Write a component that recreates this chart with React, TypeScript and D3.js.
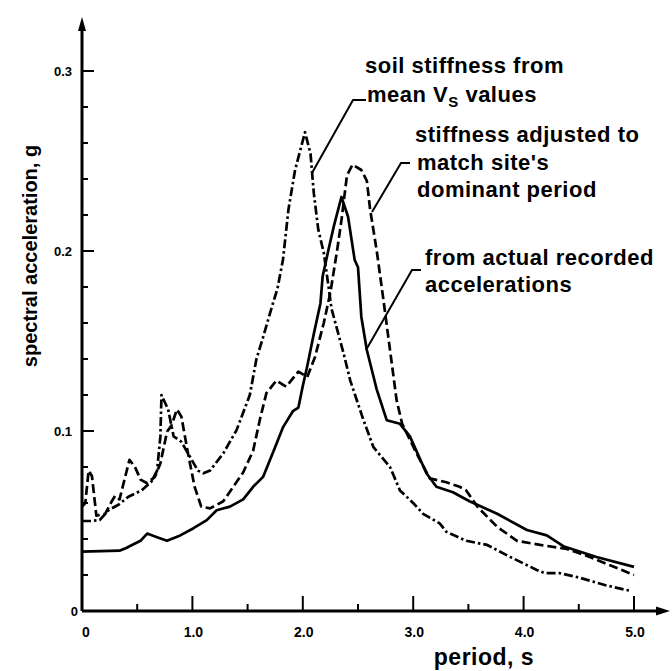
import React from 'react';
import * as d3 from 'd3';

// ---------- data ----------
const meanVsPeriod = [0, 0.08, 0.16, 0.24, 0.33, 0.42, 0.54, 0.63, 0.68, 0.71, 0.72, 0.78, 0.83, 0.9, 0.96, 1.05, 1.1, 1.16, 1.28, 1.4, 1.52, 1.58, 1.64, 1.72, 1.75, 1.77, 1.82, 1.87, 1.93, 2.02, 2.07, 2.1, 2.14, 2.19, 2.22, 2.26, 2.37, 2.43, 2.55, 2.64, 2.79, 2.88, 3.0, 3.09, 3.24, 3.3, 3.48, 3.67, 3.88, 4.12, 4.19, 4.33, 4.5, 4.75, 4.98];
const meanVsAccel = [0.05, 0.05, 0.0505, 0.056, 0.059, 0.0635, 0.067, 0.072, 0.078, 0.097, 0.12, 0.112, 0.097, 0.094, 0.0876, 0.078, 0.0765, 0.078, 0.0876, 0.1005, 0.12, 0.14, 0.152, 0.169, 0.175, 0.179, 0.195, 0.223, 0.245, 0.266, 0.254, 0.232, 0.212, 0.199, 0.186, 0.168, 0.143, 0.128, 0.106, 0.091, 0.08, 0.067, 0.06, 0.054, 0.0487, 0.044, 0.039, 0.0367, 0.03, 0.0228, 0.021, 0.021, 0.0186, 0.0142, 0.011];

const adjustedPeriod = [0, 0.03, 0.06, 0.09, 0.13, 0.21, 0.27, 0.3, 0.34, 0.43, 0.48, 0.53, 0.59, 0.66, 0.71, 0.77, 0.81, 0.86, 0.9, 0.96, 1.02, 1.08, 1.16, 1.28, 1.46, 1.55, 1.61, 1.67, 1.76, 1.85, 1.96, 2.04, 2.11, 2.19, 2.25, 2.31, 2.35, 2.4, 2.45, 2.53, 2.58, 2.61, 2.67, 2.73, 2.79, 2.85, 2.9, 2.94, 3.03, 3.15, 3.3, 3.42, 3.48, 3.58, 3.76, 3.94, 4.15, 4.39, 4.6, 4.8, 5.0];
const adjustedAccel = [0.058, 0.06, 0.078, 0.075, 0.053, 0.054, 0.061, 0.064, 0.062, 0.084, 0.08, 0.073, 0.071, 0.0745, 0.082, 0.0996, 0.103, 0.112, 0.108, 0.0876, 0.069, 0.058, 0.057, 0.061, 0.077, 0.089, 0.106, 0.121, 0.128, 0.1246, 0.133, 0.13, 0.141, 0.16, 0.177, 0.2, 0.217, 0.242, 0.248, 0.245, 0.239, 0.223, 0.2, 0.173, 0.145, 0.117, 0.104, 0.099, 0.0876, 0.0737, 0.0715, 0.069, 0.067, 0.058, 0.0468, 0.039, 0.0367, 0.0345, 0.03, 0.025, 0.02];

const recordedPeriod = [0, 0.34, 0.4, 0.53, 0.59, 0.68, 0.77, 0.89, 1.01, 1.13, 1.22, 1.34, 1.46, 1.55, 1.64, 1.73, 1.82, 1.91, 1.96, 2.0, 2.04, 2.1, 2.16, 2.18, 2.23, 2.28, 2.35, 2.41, 2.47, 2.5, 2.53, 2.58, 2.67, 2.76, 2.88, 2.97, 3.12, 3.21, 3.36, 3.51, 3.76, 4.03, 4.21, 4.36, 4.66, 5.0];
const recordedAccel = [0.033, 0.0335, 0.035, 0.039, 0.043, 0.041, 0.039, 0.042, 0.046, 0.0505, 0.056, 0.058, 0.062, 0.069, 0.0745, 0.088, 0.102, 0.111, 0.113, 0.125, 0.136, 0.154, 0.171, 0.186, 0.2, 0.2135, 0.23, 0.219, 0.195, 0.191, 0.1635, 0.145, 0.123, 0.106, 0.104, 0.097, 0.0765, 0.069, 0.066, 0.061, 0.054, 0.045, 0.042, 0.036, 0.03, 0.0245];

const xMajorTicks = [1, 2, 3, 4, 5];
const xMinorTicks = [0.5, 1.5, 2.5, 3.5, 4.5];
const xTickValues = [0, 1, 2, 3, 4, 5];
const xTickLabels = ['0', '1.0', '2.0', '3.0', '4.0', '5.0'];
const yMajorTicks = [0.1, 0.2, 0.3];
const yMinorTicks = [0.02, 0.04, 0.06, 0.08, 0.12, 0.14, 0.16, 0.18, 0.22, 0.24, 0.26, 0.28];
const yTickValues = [0, 0.1, 0.2, 0.3];
const yTickLabels = ['0', '0.1', '0.2', '0.3'];

const FONT = "'Liberation Sans', Arial, Helvetica, sans-serif";

export default function App() {
  const x = d3.scaleLinear().domain([0, 5]).range([82, 634]);
  const y = d3.scaleLinear().domain([0, 0.3]).range([611, 71]);
  const x0 = x(0);
  const y0 = y(0);

  const line = d3.line<[number, number]>().x(d => x(d[0])).y(d => y(d[1])).curve(d3.curveLinear);
  const zip = (a: number[], b: number[]) => a.map((v, i) => [v, b[i]] as [number, number]);

  const series = [
    { data: zip(meanVsPeriod, meanVsAccel), dash: '9 3 2.5 3' },
    { data: zip(adjustedPeriod, adjustedAccel), dash: '9 4' },
    { data: zip(recordedPeriod, recordedAccel), dash: undefined },
  ];

  const lbl = { fontFamily: FONT, fontWeight: 700 as const, fill: '#000' };
  const ann = { ...lbl, fontSize: 22, letterSpacing: 0.5 };

  return (
    <svg width={672} height={671} style={{ position: 'absolute', left: 0, top: 0, background: '#fff' }}>
      <rect x={0} y={0} width={672} height={671} fill="#fff" />
      {/* axes */}
      <line x1={x0} y1={y0} x2={662} y2={y0} stroke="#000" strokeWidth={3} />
      <path d={`M670,${y0} L656,${y0 - 4.5} L656,${y0 + 4.5} Z`} fill="#000" />
      <line x1={x0} y1={y0} x2={x0} y2={26} stroke="#000" strokeWidth={3} />
      <path d={`M${x0},17 L${x0 - 4},31 L${x0 + 4},31 Z`} fill="#000" />

      {xMajorTicks.map(t => (
        <line key={'xM' + t} x1={x(t)} x2={x(t)} y1={y0} y2={y0 - 15} stroke="#000" strokeWidth={2} />
      ))}
      {xMinorTicks.map(t => (
        <line key={'xm' + t} x1={x(t)} x2={x(t)} y1={y0} y2={y0 - 7} stroke="#000" strokeWidth={2} />
      ))}
      {yMajorTicks.map(t => (
        <line key={'yM' + t} x1={x0} x2={x0 + 12} y1={y(t)} y2={y(t)} stroke="#000" strokeWidth={2} />
      ))}
      {yMinorTicks.map(t => (
        <line key={'ym' + t} x1={x0} x2={x0 + 6} y1={y(t)} y2={y(t)} stroke="#000" strokeWidth={2} />
      ))}

      {xTickValues.map((t, i) => (
        <text key={'xl' + t} x={x(t) + (t === 0 ? 4 : 1)} y={y0 + 26} textAnchor="middle" fontSize={14} {...lbl}>{xTickLabels[i]}</text>
      ))}
      {yTickValues.map((t, i) => (
        <text key={'yl' + t} x={t === 0 ? x0 - 4 : x0 - 10} y={y(t) + 5} textAnchor="end" fontSize={13} {...lbl}>{yTickLabels[i]}</text>
      ))}

      {/* axis titles */}
      <text x={484} y={665} textAnchor="middle" fontSize={23} letterSpacing={0.5} {...lbl}>period, s</text>
      <text transform={`translate(37,${256}) rotate(-90)`} textAnchor="middle" fontSize={20} {...lbl}>spectral acceleration, g</text>

      {/* curves */}
      {series.map((s, i) => (
        <path key={'s' + i} d={line(s.data) || ''} fill="none" stroke="#000" strokeWidth={2.7}
          strokeDasharray={s.dash} strokeLinejoin="round" strokeLinecap="butt" />
      ))}

      {/* annotations */}
      <polyline points="366,100 353,100 312,173" fill="none" stroke="#000" strokeWidth={2} />
      <polyline points="410,163 401,163 372,212" fill="none" stroke="#000" strokeWidth={2} />
      <polyline points="421,270 412,270 366,350" fill="none" stroke="#000" strokeWidth={2} />

      <text x={365} y={73} {...ann}>soil stiffness from</text>
      <text x={367} y={102} {...ann}>mean V<tspan fontSize={15} dy={5}>S</tspan><tspan dy={-5}> values</tspan></text>
      <text x={415} y={142} {...ann}>stiffness adjusted to</text>
      <text x={417} y={170} {...ann}>match site's</text>
      <text x={417} y={197} {...ann}>dominant period</text>
      <text x={425} y={265} {...ann}>from actual recorded</text>
      <text x={425} y={292} {...ann}>accelerations</text>
    </svg>
  );
}
